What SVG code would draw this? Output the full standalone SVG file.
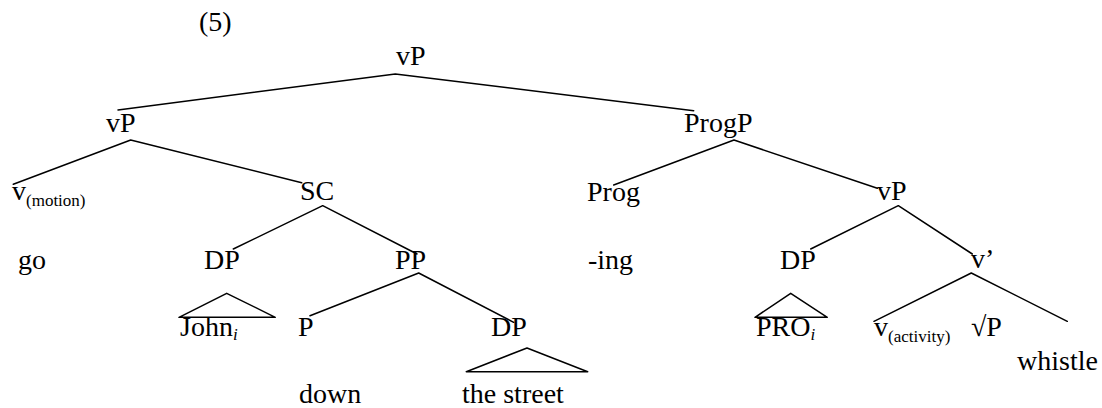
<svg xmlns="http://www.w3.org/2000/svg" width="1102" height="408" viewBox="0 0 1102 408">
<style type="text/css">
text{font-family:"Liberation Serif","Times New Roman",serif;font-size:28px;fill:#000}
.sub{font-size:17px}
.it{font-style:italic}
.edge{stroke:#000;stroke-width:1.5;fill:none;stroke-linecap:round;stroke-linejoin:round}
</style>
<rect width="1102" height="408" fill="#fff"/>
<g id="n-label5"><text x="199" y="31">(5)</text></g>
<g id="connectors" class="edge">
<path d="M395.3 74 L118 110 M395.3 74 L693.7 110.7"/>
<path d="M130.7 140 L13.3 184.3 M130.7 140 L301.7 182.7"/>
<path d="M734 140 L613.7 185 M734 140 L877.3 188.3"/>
<path d="M322.7 205.7 L233.3 249 M322.7 205.7 L417 254"/>
<path d="M898.3 205.7 L810.7 249 M898.3 205.7 L972.3 254"/>
<path d="M418.7 273 L310 315.7 M418.7 273 L513.7 322.3"/>
<path d="M971.3 273 L874 321.3 M971.3 273 L1067.3 321.3"/>
<path d="M226.7 293.3 L179 317.3 L275.3 317.3 Z"/>
<path d="M790.7 293.3 L755 317.3 L827.3 317.3 Z"/>
<path d="M527 348 L466.3 371.7 L587.7 371.7 Z"/>
</g>
<g id="n-root"><text x="396" y="65">vP</text></g>
<g id="n-vP1"><text x="106" y="132">vP</text></g>
<g id="n-ProgP"><text x="684" y="132">ProgP</text></g>
<g id="n-vmotion"><text x="12" y="200">v<tspan class="sub" dy="6">(motion)</tspan></text></g>
<g id="n-go"><text x="18" y="269">go</text></g>
<g id="n-SC"><text x="300" y="200">SC</text></g>
<g id="n-DP1"><text x="204" y="269">DP</text></g>
<g id="n-John"><text x="180" y="336">John<tspan class="sub it" dy="4">i</tspan></text></g>
<g id="n-PP"><text x="395" y="269">PP</text></g>
<g id="n-P"><text x="298" y="336">P</text></g>
<g id="n-down"><text x="299" y="403">down</text></g>
<g id="n-DP2"><text x="491" y="336">DP</text></g>
<g id="n-street"><text x="462" y="403">the street</text></g>
<g id="n-Prog"><text x="587" y="201">Prog</text></g>
<g id="n-ing"><text x="588" y="269">-ing</text></g>
<g id="n-vP2"><text x="877" y="200">vP</text></g>
<g id="n-DP3"><text x="780" y="269">DP</text></g>
<g id="n-PRO"><text x="756" y="336">PRO<tspan class="sub it" dy="4">i</tspan></text></g>
<g id="n-vbar"><text x="971" y="268">v’</text></g>
<g id="n-vactivity"><text x="874" y="336">v<tspan class="sub" dy="6">(activity)</tspan></text></g>
<g id="n-rootP"><text x="971" y="336">√P</text></g>
<g id="n-whistle"><text x="1017" y="370">whistle</text></g>
</svg>
